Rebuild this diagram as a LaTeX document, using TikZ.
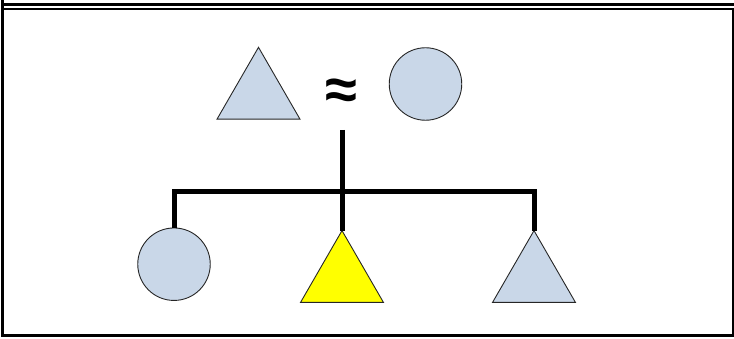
\documentclass[tikz,border=0pt]{standalone}
\usepackage{fontspec}
\setmainfont{Liberation Sans}
\usetikzlibrary{shapes.geometric}
\definecolor{lblue}{RGB}{201,215,232}
\definecolor{dyellow}{RGB}{255,255,0}
\tikzset{
  px/.style={x=1pt,y=-1pt},
  tri/.style={regular polygon,regular polygon sides=3,minimum size=95.8pt,inner sep=0pt,outer sep=0pt,draw=black!85,line width=0.9pt},
  circ/.style={circle,minimum size=72.5pt,inner sep=0pt,outer sep=0pt,draw=black!85,line width=0.9pt},
  blue/.style={fill=lblue},
  yel/.style={fill=dyellow},
  link/.style={line width=5pt,black,line cap=butt,line join=miter},
  frame/.style={black,line cap=butt}
}
\begin{document}
\begin{tikzpicture}[px]
\useasboundingbox (0,0) rectangle (734,339);
% frame
\draw[frame,line width=3.3pt] (1,4.6) -- (734,4.6);
\draw[frame,line width=1.7pt] (2.8,8.8) -- (733.2,8.8);
\draw[frame,line width=3pt] (2.8,0) -- (2.8,337);
\draw[frame,line width=1.6pt] (733.2,8) -- (733.2,337);
\draw[frame,line width=3pt] (1.3,335.5) -- (734,335.5);
% shapes
\node[tri,blue] (ttri) at (258.5,95.2) {};
\node[font=\bfseries\fontsize{58}{62}\selectfont,inner sep=0pt] (approx) at (341,94) {≈};
\node[circ,blue] (tcirc) at (425.5,84) {};
\node[circ,blue] (lcirc) at (174,264.2) {};
\node[tri,yel] (ytri) at (342,278.5) {};
\node[tri,blue] (rtri) at (534,278.5) {};
% connectors
\coordinate (top) at (342,130);
\coordinate (bar) at (342,192);
\draw[link] (top) -- (ytri.corner 1);
\draw[link] (lcirc.north) |- (bar) -| (rtri.corner 1);
\end{tikzpicture}
\end{document}
